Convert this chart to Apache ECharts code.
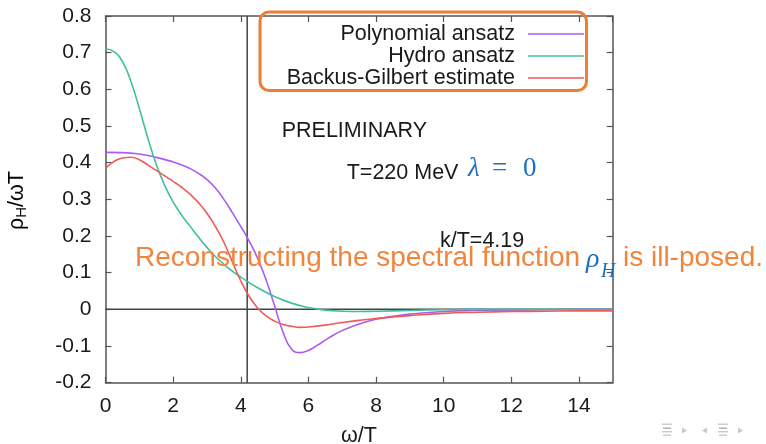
<!DOCTYPE html>
<html>
<head>
<meta charset="utf-8">
<script src="https://cdn.jsdelivr.net/npm/echarts@6/dist/echarts.min.js"></script>
<style>html,body{margin:0;padding:0;background:#fff;}#chart{width:766px;height:444px;}</style>
</head>
<body>
<div id="chart"></div>
<script>
// ---- data ----
const seriesNames = ['Polynomial ansatz', 'Hydro ansatz', 'Backus-Gilbert estimate'];
const seriesColors = ['#ad5cf2', '#3fbf9c', '#f05a5a'];

const polyX = [0,0.5,1,1.5,2,2.25,2.5,2.75,3,3.25,3.5,3.75,4,4.25,4.5,4.75,5,5.25,5.5,5.75,6,6.25,6.5,6.75,7,7.5,8,8.5,9,10,11,12,13,14,15];
const polyY = [0.428,0.4275,0.4235,0.4145,0.402,0.394,0.384,0.371,0.354,0.331,0.300,0.264,0.226,0.186,0.139,0.080,0.010,-0.062,-0.108,-0.118,-0.112,-0.099,-0.084,-0.070,-0.058,-0.040,-0.027,-0.019,-0.013,-0.006,-0.003,-0.002,-0.001,0,0];

const hydroX = [0,0.25,0.5,0.75,1,1.25,1.5,1.75,2,2.25,2.5,2.75,3,3.25,3.5,3.75,4,4.5,5,5.5,6,6.5,7,7.5,8,9,10,11,15];
const hydroY = [0.710,0.703,0.676,0.622,0.548,0.468,0.396,0.338,0.293,0.257,0.227,0.197,0.169,0.144,0.123,0.104,0.088,0.059,0.035,0.017,0.005,-0.002,-0.005,-0.006,-0.005,-0.003,-0.001,0,0];

const bgX = [0,0.25,0.5,0.75,1,1.25,1.5,1.75,2,2.25,2.5,2.75,3,3.25,3.5,3.75,4,4.25,4.5,4.75,5,5.25,5.5,5.75,6,6.5,7,7.5,8,9,10,11,12,13,14,15];
const bgY = [0.385,0.403,0.413,0.415,0.408,0.394,0.379,0.364,0.349,0.333,0.314,0.291,0.262,0.226,0.183,0.130,0.078,0.035,0.004,-0.018,-0.032,-0.041,-0.046,-0.049,-0.048,-0.043,-0.036,-0.030,-0.025,-0.017,-0.011,-0.008,-0.006,-0.005,-0.004,-0.004];

const xRange = [0, 15];
const xStep = 2;
const yRange = [-0.2, 0.8];
const yStep = 0.1;
const kOverT = 4.19;

// ---- build ----
const pairs = (xs, ys) => xs.map((x, i) => [x, ys[i]]);
const SANS = 'Liberation Sans';
const axisColor = '#555';

const chart = echarts.init(document.getElementById('chart'), null, {renderer: 'canvas'});

const baseX = {
  type: 'value', min: xRange[0], max: xRange[1], interval: xStep,
  axisLine: {show: true, onZero: false, lineStyle: {color: axisColor, width: 1.5}},
  axisTick: {show: true, inside: true, length: 6, lineStyle: {color: axisColor, width: 1.2}},
  splitLine: {show: false}
};
const baseY = {
  type: 'value', min: yRange[0], max: yRange[1], interval: yStep,
  axisLine: {show: true, onZero: false, lineStyle: {color: axisColor, width: 1.5}},
  axisTick: {show: true, inside: true, length: 6, lineStyle: {color: axisColor, width: 1.2}},
  splitLine: {show: false}
};

const lineSeries = [
  [polyX, polyY], [hydroX, hydroY], [bgX, bgY]
].map((xy, i) => ({
  name: seriesNames[i], type: 'line', smooth: 0.5, showSymbol: false, symbol: 'none',
  data: pairs(xy[0], xy[1]), color: seriesColors[i],
  lineStyle: {color: seriesColors[i], width: 1.6}, z: 3, silent: true
}));

const guideStyle = {color: '#444', width: 1.5};
const guideSeries = [
  {name: 'zero', type: 'line', data: [[xRange[0], 0], [xRange[1], 0]], symbol: 'none', lineStyle: guideStyle, z: 2, silent: true},
  {name: 'kT', type: 'line', data: [[kOverT, yRange[0]], [kOverT, yRange[1]]], symbol: 'none', lineStyle: guideStyle, z: 2, silent: true}
];

function txt(text, x, y, font, fill, align, extra) {
  return Object.assign({
    type: 'text', x: x, y: y, z: 100,
    style: {text: text, font: font, fill: fill, align: align || 'left', verticalAlign: 'middle',
            textAlign: align || 'left', textVerticalAlign: 'middle'}
  }, extra || {});
}

const navColor = '#c9c9c9', navDark = '#a9a9a9';
function navLines(x0) {
  return [
    {type: 'rect', shape: {x: x0, y: 423.5, width: 10, height: 1.4}, style: {fill: navColor}},
    {type: 'rect', shape: {x: x0 + 1, y: 427.5, width: 8, height: 1.4}, style: {fill: navDark}},
    {type: 'rect', shape: {x: x0, y: 431, width: 10, height: 1.4}, style: {fill: navColor}},
    {type: 'rect', shape: {x: x0 + 1, y: 434.5, width: 8, height: 1.4}, style: {fill: navColor}}
  ];
}
function tri(x0, dir) {
  const pts = dir > 0 ? [[x0, 427.5], [x0 + 5, 430.5], [x0, 433.5]] : [[x0 + 5, 427.5], [x0, 430.5], [x0 + 5, 433.5]];
  return {type: 'polygon', shape: {points: pts}, style: {fill: navColor}};
}

const orange = '#f3843c';
const blue = '#1f6fc0';

chart.setOption({
  animation: false,
  backgroundColor: '#ffffff',
  grid: {left: 105.5, right: 153.3, top: 16, bottom: 61.3, containLabel: false, outerBoundsMode: 'none'},
  xAxis: [
    Object.assign({}, baseX, {position: 'bottom',
      axisLabel: {show: true, margin: 13, showMaxLabel: false, fontFamily: SANS, fontSize: 21, color: '#1a1a1a'}}),
    Object.assign({}, baseX, {position: 'top', axisLabel: {show: false}})
  ],
  yAxis: [
    Object.assign({}, baseY, {position: 'left',
      axisLabel: {show: true, margin: 14, fontFamily: SANS, fontSize: 21, color: '#1a1a1a',
        formatter: v => (Math.abs(v) < 1e-9 ? '0' : v.toFixed(1))}}),
    Object.assign({}, baseY, {position: 'right', axisLabel: {show: false}})
  ],
  legend: {
    show: true, orient: 'vertical', align: 'right', right: 182, top: 23, padding: 0,
    itemWidth: 56, itemHeight: 1.6, itemGap: 0, icon: 'rect',
    data: seriesNames, selectedMode: false,
    textStyle: {fontFamily: SANS, fontSize: 21.5, color: '#1a1a1a', lineHeight: 21.7, padding: [0, 8, 0, 0]}
  },
  series: guideSeries.concat(lineSeries),
  graphic: [
    {type: 'rect', z: 100, shape: {x: 260, y: 12, width: 326.5, height: 78.5, r: 9},
     style: {fill: 'none', stroke: '#ef7d33', lineWidth: 3}},
    txt('PRELIMINARY', 281.7, 131, '21.5px "Liberation Sans"', '#1a1a1a'),
    txt('T=220 MeV', 346.7, 173.4, '21.5px "Liberation Sans"', '#1a1a1a'),
    txt('λ', 468, 169, 'italic 27px "Liberation Serif"', blue),
    txt('=', 492, 169, '27px "Liberation Serif"', blue),
    txt('0', 523, 169, '27px "Liberation Serif"', blue),
    txt('k/T=4.19', 440, 241.5, '21.5px "Liberation Sans"', '#1a1a1a'),
    txt('Reconstructing the spectral function', 135, 258, '28px "Liberation Sans"', orange),
    txt('ρ', 586, 260, 'italic 28px "Liberation Serif"', blue),
    txt('H', 601, 272, 'italic 20px "Liberation Serif"', blue),
    txt('is ill-posed.', 763, 258, '28px "Liberation Sans"', orange, 'right'),
    txt('ω/T', 359, 436.5, '21.5px "Liberation Sans"', '#1a1a1a', 'center'),
    {type: 'text', x: 16.7, y: 200.5, rotation: Math.PI / 2, z: 100,
     style: {text: '{a|ρ}{s|H}{a|/ωT}', align: 'center', verticalAlign: 'middle',
             textAlign: 'center', textVerticalAlign: 'middle',
             rich: {a: {fontFamily: SANS, fontSize: 21.5, lineHeight: 26, color: '#1a1a1a', verticalAlign: 'middle'},
                    s: {fontFamily: SANS, fontSize: 15, lineHeight: 15, color: '#1a1a1a', verticalAlign: 'bottom'}}}}
  ].concat(navLines(662), [tri(682, 1), tri(702, -1)], navLines(718), [tri(738, 1)])
});
</script>
</body>
</html>
